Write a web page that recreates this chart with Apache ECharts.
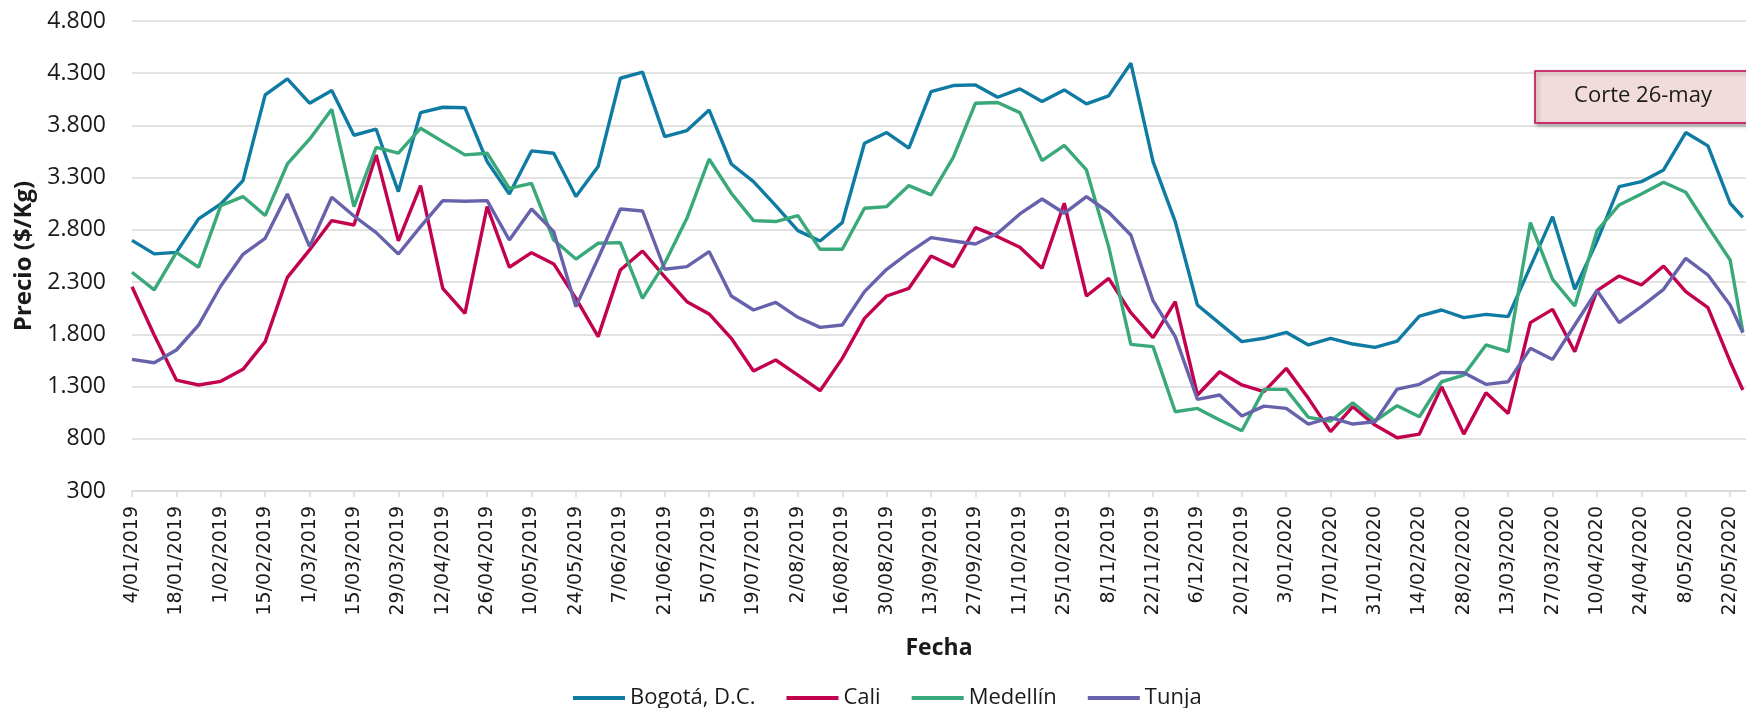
<!DOCTYPE html>
<html>
<head>
<meta charset="utf-8">
<script src="https://cdn.jsdelivr.net/npm/echarts@6/dist/echarts.min.js"></script>
<style>
  html, body { margin: 0; padding: 0; background: #fff; }
  #chart { width: 1746px; height: 708px; }
</style>
</head>
<body>
<div id="chart"></div>
<script>
// fechas semanales (viernes) + corte 26/05/2020
const fechas = [
  '4/01/2019', '11/01/2019', '18/01/2019', '25/01/2019', '1/02/2019', '8/02/2019', '15/02/2019', '22/02/2019',
  '1/03/2019', '8/03/2019', '15/03/2019', '22/03/2019', '29/03/2019', '5/04/2019', '12/04/2019', '19/04/2019',
  '26/04/2019', '3/05/2019', '10/05/2019', '17/05/2019', '24/05/2019', '31/05/2019', '7/06/2019', '14/06/2019',
  '21/06/2019', '28/06/2019', '5/07/2019', '12/07/2019', '19/07/2019', '26/07/2019', '2/08/2019', '9/08/2019',
  '16/08/2019', '23/08/2019', '30/08/2019', '6/09/2019', '13/09/2019', '20/09/2019', '27/09/2019', '4/10/2019',
  '11/10/2019', '18/10/2019', '25/10/2019', '1/11/2019', '8/11/2019', '15/11/2019', '22/11/2019', '29/11/2019',
  '6/12/2019', '13/12/2019', '20/12/2019', '27/12/2019', '3/01/2020', '10/01/2020', '17/01/2020', '24/01/2020',
  '31/01/2020', '7/02/2020', '14/02/2020', '21/02/2020', '28/02/2020', '6/03/2020', '13/03/2020', '20/03/2020',
  '27/03/2020', '3/04/2020', '10/04/2020', '17/04/2020', '24/04/2020', '1/05/2020', '8/05/2020', '15/05/2020',
  '22/05/2020', '26/05/2020'
];

const bogota = [
  2700, 2570, 2585, 2905, 3048, 3272, 4092, 4246, 4013, 4134, 3706, 3764, 3166, 3923, 3974, 3970,
  3454, 3144, 3556, 3534, 3119, 3406, 4252, 4310, 3693, 3751, 3949, 3431, 3262, 3032, 2793, 2694,
  2870, 3629, 3732, 3582, 4124, 4182, 4188, 4070, 4150, 4029, 4140, 4006, 4083, 4396, 3454, 2879,
  2081, 1905, 1730, 1762, 1819, 1698, 1762, 1707, 1675, 1736, 1975, 2033, 1960, 1991, 1969, 2448,
  2927, 2231, 2690, 3214, 3262, 3374, 3732, 3604, 3055, 2920
];
const cali = [
  2256, 1793, 1362, 1315, 1350, 1465, 1730, 2346, 2608, 2889, 2847, 3518, 2695, 3224, 2241, 2001,
  3023, 2442, 2582, 2474, 2145, 1778, 2416, 2598, 2350, 2113, 1995, 1762, 1449, 1554, 1410, 1260,
  1570, 1953, 2167, 2241, 2550, 2448, 2822, 2735, 2633, 2432, 3055, 2167, 2336, 2007, 1768, 2113,
  1219, 1442, 1315, 1251, 1474, 1187, 868, 1107, 931, 810, 845, 1299, 845, 1241, 1043, 1912,
  2039, 1634, 2218, 2359, 2272, 2454, 2209, 2055, 1538, 1267
];
const medellin = [
  2394, 2225, 2585, 2442, 3032, 3119, 2937, 3431, 3668, 3955, 3023, 3591, 3534, 3773, 3645, 3518,
  3534, 3198, 3246, 2703, 2521, 2672, 2678, 2145, 2480, 2911, 3479, 3151, 2889, 2880, 2937, 2614,
  2614, 3007, 3023, 3224, 3135, 3495, 4013, 4019, 3923, 3463, 3610, 3374, 2640, 1704, 1682, 1059,
  1091, 979, 877, 1273, 1273, 1005, 970, 1145, 970, 1117, 1011, 1346, 1410, 1698, 1634, 2870,
  2327, 2071, 2790, 3039, 3144, 3256, 3160, 2831, 2512, 1825
];
const tunja = [
  1560, 1528, 1650, 1889, 2263, 2566, 2719, 3144, 2640, 3112, 2933, 2774, 2569, 2831, 3080, 3074,
  3080, 2703, 3000, 2783, 2065, 2528, 3000, 2981, 2423, 2448, 2592, 2167, 2033, 2106, 1963, 1867,
  1889, 2209, 2423, 2582, 2726, 2694, 2665, 2767, 2953, 3096, 2959, 3119, 2969, 2751, 2122, 1778,
  1177, 1219, 1018, 1113, 1091, 941, 1002, 941, 963, 1276, 1321, 1436, 1433, 1321, 1346, 1666,
  1560, 1889, 2220, 1912, 2065, 2231, 2528, 2368, 2081, 1815
];

const ciudades = ['Bogotá, D.C.', 'Cali', 'Medellín', 'Tunja'];
const colores = ['#0F7BA3', '#C2024F', '#39A979', '#6762AC'];
const valores = [bogota, cali, medellin, tunja];

// días transcurridos desde la primera fecha (eje de fechas como en Excel)
function dia(s) {
  const p = s.split('/').map(Number);
  return Math.round((Date.UTC(p[2], p[1] - 1, p[0]) - Date.UTC(2019, 0, 4)) / 86400000);
}
const dias = fechas.map(dia);

function miles(v) {
  return String(v).replace(/\B(?=(\d{3})+(?!\d))/g, '.');
}

const chart = echarts.init(document.getElementById('chart'));
const txt = '#1a1a1a';

chart.setOption({
  animation: false,
  backgroundColor: '#ffffff',
  color: colores,
  grid: { left: 132, right: 0, top: 21, bottom: 217 },
  xAxis: {
    type: 'value',
    min: 0,
    max: 509,
    interval: 14,
    name: 'Fecha',
    nameLocation: 'middle',
    nameGap: 146,
    nameTextStyle: { fontFamily: 'Open Sans', fontWeight: 'bold', fontSize: 23, color: txt },
    splitLine: { show: false },
    axisLine: { show: true, lineStyle: { color: '#D9D9D9', width: 1.5 } },
    axisTick: { show: true, length: 6, lineStyle: { color: '#D9D9D9', width: 1.5 } },
    axisLabel: {
      rotate: 90,
      margin: 15,
      showMaxLabel: false,
      fontFamily: 'DejaVu Sans',
      fontSize: 19,
      color: txt,
      formatter: v => {
        const i = dias.indexOf(v);
        return (v % 14 === 0 && i >= 0) ? fechas[i] : '';
      }
    }
  },
  yAxis: {
    type: 'value',
    min: 300,
    max: 4800,
    interval: 500,
    name: 'Precio ($/Kg)',
    nameLocation: 'middle',
    nameRotate: 90,
    nameGap: 96,
    nameTextStyle: { fontFamily: 'Open Sans', fontWeight: 'bold', fontSize: 24, color: txt },
    axisLine: { show: false },
    axisTick: { show: false },
    splitLine: { lineStyle: { color: '#D9D9D9', width: 1.5 } },
    axisLabel: {
      margin: 26,
      fontFamily: 'Open Sans',
      fontSize: 23,
      color: txt,
      formatter: v => miles(v)
    }
  },
  legend: {
    data: ciudades,
    left: 568,
    top: 682,
    icon: 'rect',
    itemWidth: 52,
    itemHeight: 4,
    itemGap: 31,
    textStyle: { fontFamily: 'Open Sans', fontSize: 22, color: txt }
  },
  series: ciudades.map((c, k) => ({
    name: c,
    type: 'line',
    showSymbol: false,
    symbol: 'none',
    lineStyle: { width: 3.4, color: colores[k] },
    data: valores[k].map((v, i) => [dias[i], v])
  })),
  graphic: [
    {
      type: 'rect',
      z: 100,
      shape: { x: 1535, y: 71, width: 230, height: 52 },
      style: {
        fill: '#F2DCDB',
        stroke: '#C2024F',
        lineWidth: 1.5,
        shadowBlur: 4,
        shadowOffsetX: 2,
        shadowOffsetY: 2,
        shadowColor: 'rgba(0,0,0,0.35)'
      }
    },
    {
      type: 'text',
      z: 101,
      x: 1643,
      y: 96,
      style: {
        text: 'Corte 26-may',
        font: '22px "Open Sans"',
        fill: txt,
        align: 'center',
        verticalAlign: 'middle'
      }
    }
  ]
});
</script>
</body>
</html>
